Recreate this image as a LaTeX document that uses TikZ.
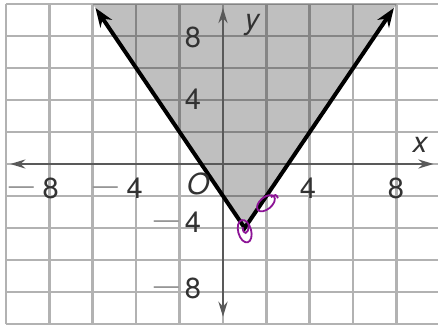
\documentclass[tikz,border=0pt]{standalone}
\usepackage{fontspec}
\setmainfont{TeX Gyre Heros}
\usetikzlibrary{arrows.meta}
\definecolor{ink}{RGB}{50,50,50}
\definecolor{dashgray}{RGB}{150,150,150}
\definecolor{annot}{RGB}{140,20,150}
\begin{document}
\begin{tikzpicture}[x=21.7pt,y=16pt,
  gridline/.style={black!30,line width=2.6pt},
  axisline/.style={black!65,line width=2.8pt,{Stealth[length=15pt,width=9pt]}-{Stealth[length=15pt,width=9pt]}},
  boundline/.style={black,line width=4pt,line join=miter,{Stealth[length=19pt,width=14pt]}-{Stealth[length=19pt,width=14pt]}},
  lab/.style={font=\fontsize{29}{32}\selectfont,text=ink,inner sep=0pt},
  itlab/.style={font=\fontsize{29}{32}\selectfont\itshape,text=ink,inner sep=0pt},
  annotpen/.style={annot,line width=1.8pt}]
\useasboundingbox (-10.276,-10.125) rectangle (9.908,10.25);
\fill[white] (-10.276,-10.125) rectangle (9.908,10.25);
% grid
\foreach \x in {-10,-8,...,10} \draw[gridline] (\x,-10) -- (\x,10);
\foreach \y in {-10,-8,...,10} \draw[gridline] (-10,\y) -- (10,\y);
% shaded region
\coordinate (V) at (1,-4);
\coordinate (TL) at (-6,10);
\coordinate (TR) at (8,10);
\fill[black,fill opacity=0.25] (V) -- (TL) -- (TR) -- cycle;
% axes
\coordinate (xl) at (-9.8,0);
\coordinate (xr) at (9.7,0);
\coordinate (yt) at (0,9.75);
\coordinate (yb) at (0,-9.55);
\draw[axisline] (xl) -- (xr);
\draw[axisline] (yb) -- (yt);
% boundary
\coordinate (L) at (-5.875,9.75);
\coordinate (R) at (7.875,9.75);
\draw[boundline] (L) -- (V) -- (R);
% labels
\node[itlab] (xlab) at (9.08,1.19) {x};
\node[itlab] (ylab) at (1.34,8.69) {y};
\node[itlab] (olab) at (-1.15,-1.25) {O};
\node[lab,anchor=base] (xp4) at (3.92,-2.15) {4};
\node[lab,anchor=base] (xp8) at (7.97,-2.15) {8};
\node[lab,anchor=base east] (xm4) at (-4.06+0.371,-2.15) {\textcolor{dashgray}{\fontsize{25}{25}\selectfont\raisebox{4pt}{—}}\hspace{0.3em}4};
\node[lab,anchor=base east] (xm8) at (-7.93+0.371,-2.15) {\textcolor{dashgray}{\fontsize{25}{25}\selectfont\raisebox{4pt}{—}}\hspace{0.3em}8};
\node[lab,anchor=base] (yp8) at (-1.38,7.31) {8};
\node[lab,anchor=base] (yp4) at (-1.38,3.375) {4};
\node[lab,anchor=base east] (ym4) at (-1.38+0.371,-4.31) {\textcolor{dashgray}{\fontsize{25}{25}\selectfont\raisebox{4pt}{—}}\hspace{0.2em}4};
\node[lab,anchor=base east] (ym8) at (-1.38+0.371,-8.375) {\textcolor{dashgray}{\fontsize{25}{25}\selectfont\raisebox{4pt}{—}}\hspace{0.2em}8};
% hand-drawn annotations
\coordinate (A1) at (1.0,-4.2);
\coordinate (A2) at (1.98,-2.45);
\draw[annotpen,rotate around={15:(A1)}] (A1) ellipse [x radius=6.5pt,y radius=11.5pt];
\draw[annotpen] ([shift={(-2pt,4pt)}]A1) .. controls ([shift={(-2pt,-4pt)}]A1) and ([shift={(4pt,-4pt)}]A1) .. ([shift={(4pt,6pt)}]A1);
\draw[annotpen,rotate around={40:(A2)}] (A2) ellipse [x radius=10.5pt,y radius=6pt];
\draw[annotpen] ([shift={(5pt,6pt)}]A2) .. controls ([shift={(10pt,9pt)}]A2) .. ([shift={(12pt,5pt)}]A2);
\end{tikzpicture}
\end{document}
